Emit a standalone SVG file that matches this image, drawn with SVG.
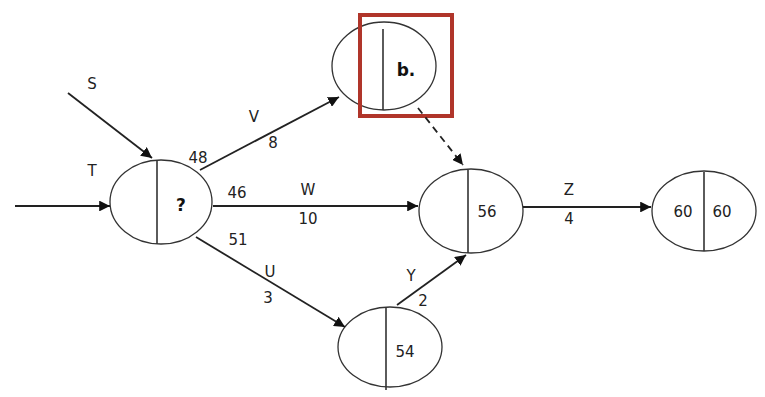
<svg xmlns="http://www.w3.org/2000/svg" width="765" height="397" viewBox="0 0 765 397">
<style>
.n{fill:#fff;stroke:#333;stroke-width:1.3}
.d{stroke:#333;stroke-width:1.6}
.e{stroke:#222;stroke-width:1.8;fill:none}
.t{font-family:"DejaVu Sans",sans-serif;font-size:15px;fill:#222;text-anchor:middle}
.b{font-weight:bold;font-size:17px;fill:#111}
</style>
<defs>
<marker id="ah" viewBox="0 0 10 10" refX="10" refY="5" markerWidth="6" markerHeight="6" orient="auto" markerUnits="strokeWidth">
<path d="M0,0 L10,5 L0,10 z" fill="#111"/>
</marker>
</defs>
<rect width="765" height="397" fill="#fff"/>
<g id="nodeA">
<ellipse class="n" cx="161" cy="202" rx="51" ry="42"/>
<line class="d" x1="157" y1="161" x2="157" y2="244"/>
<text class="t b" x="181" y="211">?</text>
</g>
<g id="nodeB">
<ellipse class="n" cx="384" cy="66" rx="52" ry="44"/>
<line class="d" x1="383" y1="29" x2="383" y2="110"/>
<text class="t b" x="406" y="76">b.</text>
<rect x="360" y="15" width="92" height="101" fill="none" stroke="#b0352a" stroke-width="4"/>
</g>
<g id="nodeC">
<ellipse class="n" cx="471" cy="211" rx="52" ry="42"/>
<line class="d" x1="468" y1="170" x2="468" y2="253"/>
<text class="t" x="487" y="217">56</text>
</g>
<g id="nodeD">
<ellipse class="n" cx="704" cy="211" rx="52" ry="40"/>
<line class="d" x1="704" y1="172" x2="704" y2="251"/>
<text class="t" x="683" y="217">60</text>
<text class="t" x="722" y="217">60</text>
</g>
<g id="nodeE">
<ellipse class="n" cx="390" cy="347" rx="52" ry="40"/>
<line class="d" x1="386" y1="308" x2="386" y2="390"/>
<text class="t" x="405" y="357">54</text>
</g>
<g id="connectors">
<line class="e" x1="68" y1="93" x2="152" y2="158" marker-end="url(#ah)"/>
<line class="e" x1="15" y1="206" x2="110" y2="206" marker-end="url(#ah)"/>
<line class="e" x1="200" y1="170" x2="339" y2="97" marker-end="url(#ah)"/>
<line class="e" x1="213" y1="206" x2="418" y2="206" marker-end="url(#ah)"/>
<line class="e" x1="196" y1="237" x2="345" y2="327" marker-end="url(#ah)"/>
<line class="e" x1="397" y1="305" x2="466" y2="255" marker-end="url(#ah)"/>
<line class="e" x1="523" y1="207" x2="651" y2="207" marker-end="url(#ah)"/>
<line class="e" x1="418" y1="108" x2="463" y2="165" stroke-dasharray="7,5" marker-end="url(#ah)"/>
<text class="t" x="92" y="89">S</text>
<text class="t" x="92" y="176">T</text>
<text class="t" x="198" y="163">48</text>
<text class="t" x="254" y="122">V</text>
<text class="t" x="273" y="148">8</text>
<text class="t" x="237" y="198">46</text>
<text class="t" x="308" y="195">W</text>
<text class="t" x="308" y="224">10</text>
<text class="t" x="238" y="245">51</text>
<text class="t" x="270" y="277">U</text>
<text class="t" x="268" y="303">3</text>
<text class="t" x="411" y="281">Y</text>
<text class="t" x="423" y="306">2</text>
<text class="t" x="569" y="195">Z</text>
<text class="t" x="569" y="224">4</text>
</g>
</svg>
